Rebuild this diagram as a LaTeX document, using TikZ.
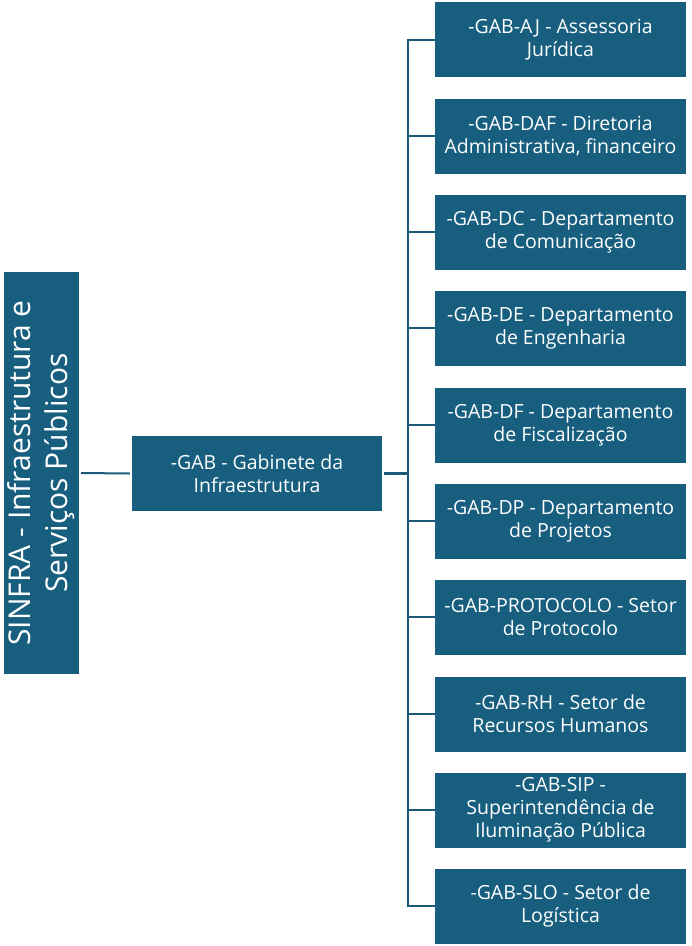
\documentclass[tikz,border=0pt]{standalone}
\usepackage{fontspec}
\setmainfont{Open Sans}
\definecolor{boxblue}{HTML}{175E7F}
\definecolor{lineblue}{HTML}{1A5A78}
\begin{document}
\begin{tikzpicture}[x=1pt,y=-1pt,
  unit/.style={fill=boxblue,text=white,inner sep=0pt,minimum width=251pt,minimum height=75pt,
    align=center,font=\fontsize{19.5}{23}\selectfont},
  conn/.style={draw=lineblue,line width=2pt}]
\useasboundingbox (0,0) rectangle (692,946);
\node[fill=boxblue,text=white,inner sep=0pt,minimum width=402pt,minimum height=75pt,
  rotate=90,align=center,font=\fontsize{30}{37}\selectfont] (root) at (41.5,473) {SINFRA - Infraestrutura e\\Serviços Públicos};
\node[unit,minimum width=250pt] (gab) at (257,473.5) {-GAB - Gabinete da\\Infraestrutura};
\node[unit] (b1) at (560.5,39.5) {-GAB-AJ - Assessoria\\Jurídica};
\node[unit] (b2) at (560.5,136) {-GAB-DAF - Diretoria\\Administrativa, financeiro};
\node[unit] (b3) at (560.5,232) {-GAB-DC - Departamento\\de Comunicação};
\node[unit] (b4) at (560.5,328) {-GAB-DE - Departamento\\de Engenharia};
\node[unit] (b5) at (560.5,425) {-GAB-DF - Departamento\\de Fiscalização};
\node[unit] (b6) at (560.5,521) {-GAB-DP - Departamento\\de Projetos};
\node[unit] (b7) at (560.5,617) {-GAB-PROTOCOLO - Setor\\de Protocolo};
\node[unit] (b8) at (560.5,714) {-GAB-RH - Setor de\\Recursos Humanos};
\node[unit] (b9) at (560.5,810) {-GAB-SIP -\\Superintendência de\\Iluminação Pública};
\node[unit] (b10) at (560.5,906) {-GAB-SLO - Setor de\\Logística};
\draw[conn] ([xshift=2pt]root.south) -- ([xshift=-2pt]gab.west);
\draw[conn,line width=3pt] ([xshift=2pt]gab.east) -- ++(24,0);
\draw[conn] (b1.west) -- ++(-27,0) |- (b10.west);
\foreach \i in {2,...,9} \draw[conn] (b\i.west) -- ++(-27,0);
\end{tikzpicture}
\end{document}
